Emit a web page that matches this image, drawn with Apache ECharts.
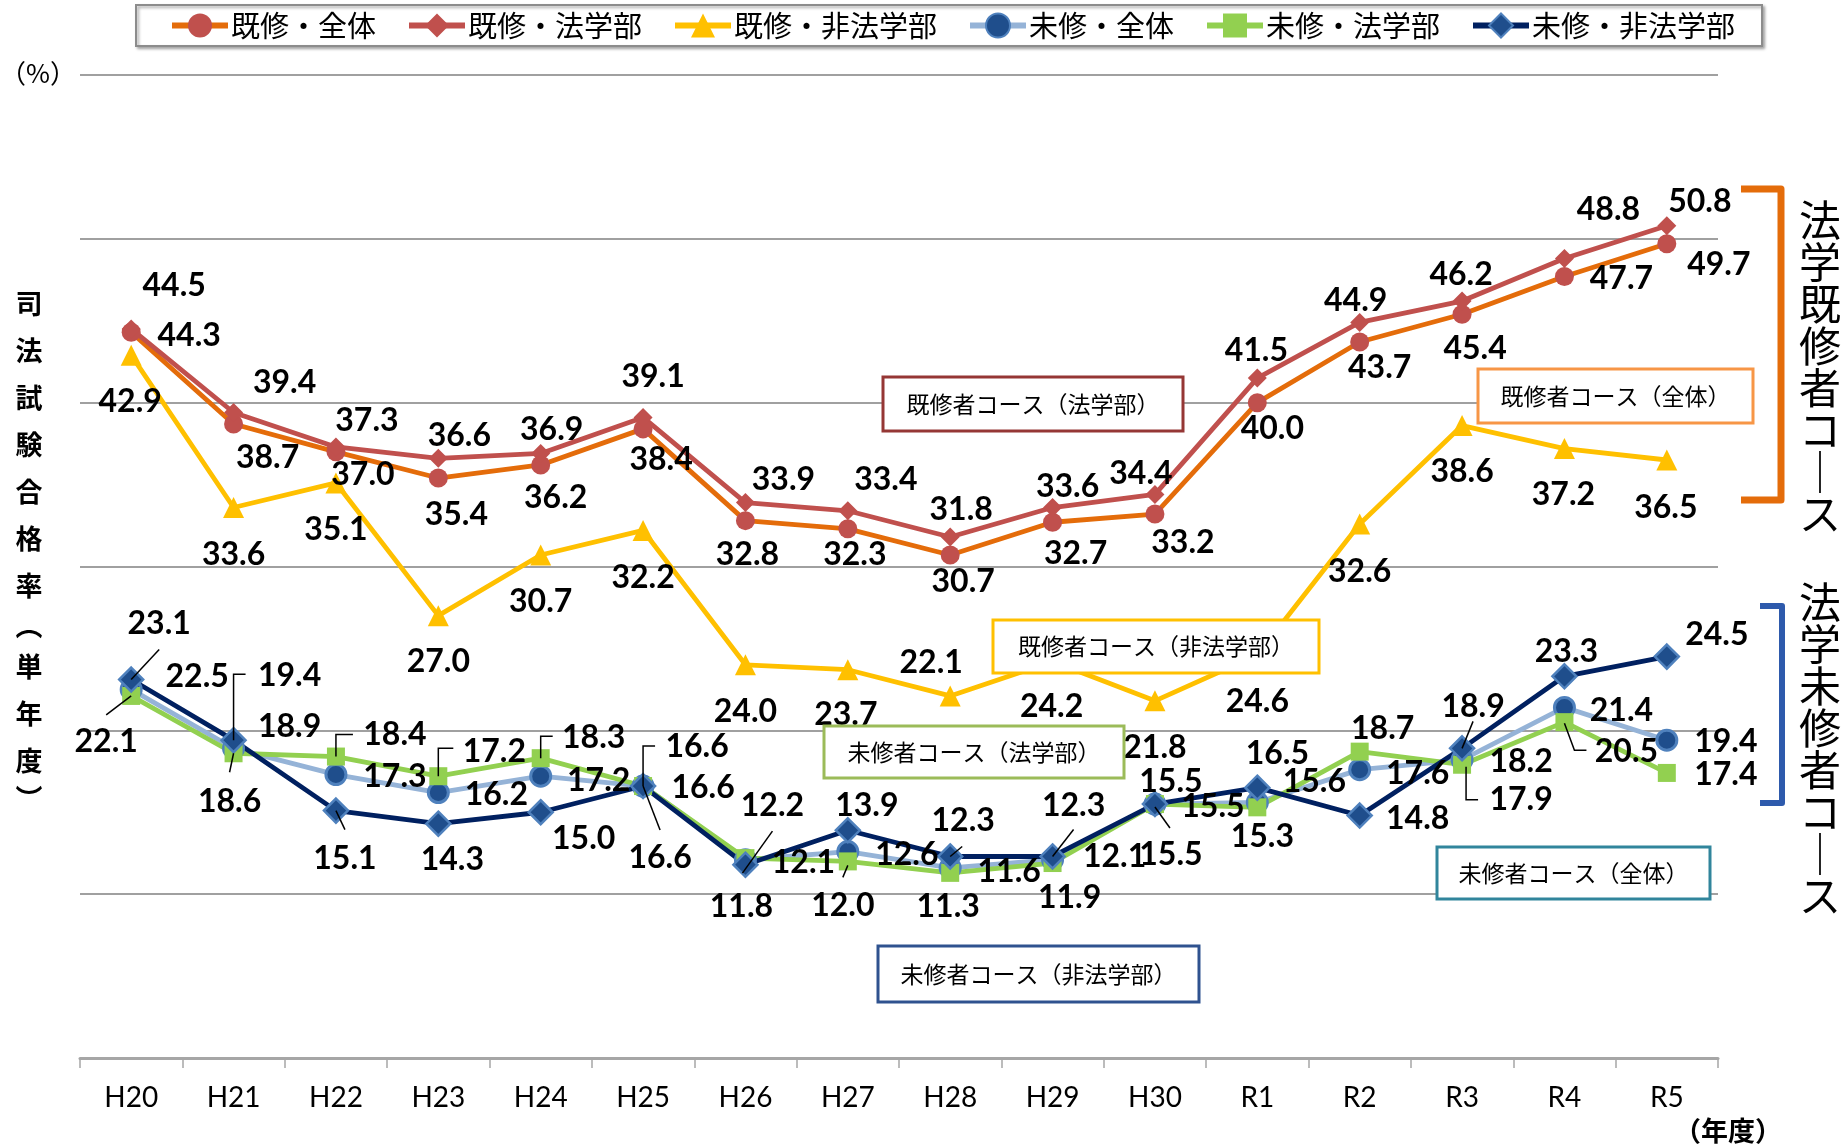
<!DOCTYPE html>
<html>
<head>
<meta charset="utf-8">
<script src="https://cdn.jsdelivr.net/npm/echarts@6/dist/echarts.min.js"></script>
<style>
html,body{margin:0;padding:0;background:#fff;}
#main{width:1843px;height:1148px;}
</style>
</head>
<body>
<div id="main"></div>
<script>
// ---- data ----
const categories = ['H20','H21','H22','H23','H24','H25','H26','H27','H28','H29','H30','R1','R2','R3','R4','R5'];
const seriesNames = ['既修・全体','既修・法学部','既修・非法学部','未修・全体','未修・法学部','未修・非法学部'];
const kishuAll    = [44.3, 38.7, 37.0, 35.4, 36.2, 38.4, 32.8, 32.3, 30.7, 32.7, 33.2, 40.0, 43.7, 45.4, 47.7, 49.7];
const kishuLaw    = [44.5, 39.4, 37.3, 36.6, 36.9, 39.1, 33.9, 33.4, 31.8, 33.6, 34.4, 41.5, 44.9, 46.2, 48.8, 50.8];
const kishuNonLaw = [42.9, 33.6, 35.1, 27.0, 30.7, 32.2, 24.0, 23.7, 22.1, 24.2, 21.8, 24.6, 32.6, 38.6, 37.2, 36.5];
const mishuAll    = [22.5, 18.9, 17.3, 16.2, 17.2, 16.6, 12.1, 12.6, 11.6, 12.1, 15.5, 15.6, 17.6, 18.2, 21.4, 19.4];
const mishuLaw    = [22.1, 18.6, 18.4, 17.2, 18.3, 16.6, 12.2, 12.0, 11.3, 11.9, 15.5, 15.3, 18.7, 17.9, 20.5, 17.4];
const mishuNonLaw = [23.1, 19.4, 15.1, 14.3, 15.0, 16.6, 11.8, 13.9, 12.3, 12.3, 15.5, 16.5, 14.8, 18.9, 23.3, 24.5];

// ---- label layout (offsets of label centres from their point, px) ----
const offKA = [[58,3],[34,34],[27,23],[18,37],[15,33],[18,31],[2,34],[7,26],[13,27],[23,31],[28,29],[15,26],[20,26],[13,34],[57,2],[52,21]];
const offKL = [[43,-43],[51,-30],[31,-26],[21,-23],[11,-24],[10,-41],[38,-23],[38,-31],[11,-27],[15,-21],[-14,-21],[-1,-27],[-4,-22],[-1,-26],[44,-49],[33,-24]];
const offKN = [[-1,47],[0,47],[0,47],[0,46],[0,47],[0,47],[0,47],[-2,45],[-19,-33],[-1,45],[0,47],[0,47],[0,48],[0,46],[-1,46],[-1,48]];
const offMA = [[66,-13],[56,-22],[59,2],[58,2],[58,4],[60,2],[58,3],[59,3],[59,4],[62,-3],[58,3],[57,-21],[58,4],[59,2],[57,3],[59,2]];
const offML = [[-25,46],[-4,48],[59,-22],[56,-25],[53,-20],[54,-39],[27,-52],[-5,44],[-2,34],[17,35],[16,51],[5,29],[23,-23],[59,35],[62,30],[59,2]];
const offMN = [[28,-56],[56,-64],[9,48],[14,36],[43,26],[17,72],[-4,42],[19,-25],[13,-36],[21,-51],[16,-22],[20,-34],[58,3],[11,-42],[2,-25],[50,-22]];

// leader lines: [seriesIndex, categoryIndex, relative points]
const leaders = [
  [5,0,[[0,0],[28,-30]]],
  [4,0,[[0,0],[-25,19]]],
  [5,1,[[0,0],[0,-66],[12,-66]]],
  [4,1,[[0,0],[-4,19]]],
  [4,2,[[0,0],[0,-22],[17,-22]]],
  [5,2,[[0,0],[9,19]]],
  [4,3,[[0,0],[0,-28],[15,-28]]],
  [4,4,[[0,0],[0,-22],[12,-22]]],
  [4,5,[[0,0],[0,-40],[12,-40]]],
  [5,5,[[0,0],[17,44]]],
  [4,6,[[-3,15],[27,-27]]],
  [4,7,[[0,4],[-5,16]]],
  [5,8,[[0,0],[12,-10]]],
  [5,9,[[0,0],[21,-27]]],
  [4,10,[[0,3],[15,24]]],
  [5,13,[[0,0],[11,-27]]],
  [4,13,[[4,2],[4,35],[16,35]]],
  [4,14,[[0,1],[10,28],[22,28]]]
];

const allValues = [kishuAll, kishuLaw, kishuNonLaw, mishuAll, mishuLaw, mishuNonLaw];
const allOffs = [offKA, offKL, offKN, offMA, offML, offMN];

const NUM_FONT = 'Lato, "Liberation Sans", sans-serif';
const JP_FONT = '"Noto Sans CJK JP", sans-serif';

function mkSeries(idx, lineColor, symbol, size, itemStyle) {
  return {
    name: seriesNames[idx],
    type: 'line',
    data: allValues[idx].map((v, i) => ({ value: v, label: { offset: allOffs[idx][i] } })),
    symbol: symbol,
    symbolSize: size,
    showAllSymbol: true,
    lineStyle: { color: lineColor, width: 4.8 },
    itemStyle: itemStyle,
    label: {
      show: true, position: 'inside',
      formatter: p => Number(p.value).toFixed(1),
      fontFamily: NUM_FONT, fontWeight: 'bold', fontSize: 32, color: '#000',
      textBorderWidth: 0
    },
    emphasis: { disabled: true },
    animation: false
  };
}

const series = [
  mkSeries(0, '#E46C0A', 'circle', 19, { color: '#C0504D' }),
  mkSeries(1, '#C0504D', 'diamond', 19, { color: '#C0504D' }),
  mkSeries(2, '#FFC000', 'triangle', 21, { color: '#FFC000' }),
  mkSeries(3, '#95B3D7', 'circle', 20, { color: '#1F4E8C', borderColor: '#4F81BD', borderWidth: 3 }),
  mkSeries(4, '#92D050', 'rect', 18, { color: '#92D050' }),
  mkSeries(5, '#002060', 'diamond', 24, { color: '#1F4E8C', borderColor: '#4F81BD', borderWidth: 2.5 })
];

function box(id, x, y, w, h, color, text) {
  return [
    { type: 'rect', id: id + 'r', z: 100, shape: { x: x, y: y, width: w, height: h },
      style: { fill: '#fff', stroke: color, lineWidth: 3 } },
    { type: 'text', id: id + 't', z: 101, x: x + w / 2, y: y + h / 2,
      style: { text: text, fontFamily: JP_FONT, fontSize: 23, fill: '#000', align: 'center', verticalAlign: 'middle' } }
  ];
}

const staticGraphics = [].concat(
  box('b1', 883, 377, 300, 54, '#953735', '既修者コース（法学部）'),
  box('b2', 1478, 369, 275, 54, '#F79646', '既修者コース（全体）'),
  box('b3', 993, 620, 326, 53, '#FFC000', '既修者コース（非法学部）'),
  box('b4', 824, 726, 300, 52, '#9BBB59', '未修者コース（法学部）'),
  box('b5', 1437, 847, 273, 52, '#31859C', '未修者コース（全体）'),
  box('b6', 878, 946, 321, 56, '#2F528F', '未修者コース（非法学部）'),
  [
    { type: 'text', id: 'pct', x: 38, y: 73, style: { text: '（%）', fontFamily: JP_FONT, fontSize: 26, fill: '#000', align: 'center', verticalAlign: 'middle' } },
    { type: 'text', id: 'yt1', x: 29, y: 280, style: { text: '司\n法\n試\n験\n合\n格\n率', fontFamily: JP_FONT, fontWeight: 'bold', fontSize: 27, lineHeight: 47, fill: '#000', align: 'center', verticalAlign: 'top' } },
    { type: 'text', id: 'yt2', x: 29, y: 626, style: { text: '︵', fontFamily: JP_FONT, fontWeight: 'bold', fontSize: 27, fill: '#000', align: 'center', verticalAlign: 'middle' } },
    { type: 'text', id: 'yt3', x: 29, y: 643, style: { text: '単\n年\n度', fontFamily: JP_FONT, fontWeight: 'bold', fontSize: 27, lineHeight: 47, fill: '#000', align: 'center', verticalAlign: 'top' } },
    { type: 'text', id: 'yt4', x: 29, y: 799, style: { text: '︶', fontFamily: JP_FONT, fontWeight: 'bold', fontSize: 27, fill: '#000', align: 'center', verticalAlign: 'middle' } },
    { type: 'text', id: 'xname', x: 1728, y: 1131, style: { text: '（年度）', fontFamily: JP_FONT, fontWeight: 'bold', fontSize: 27, fill: '#000', align: 'center', verticalAlign: 'middle' } },
    { type: 'polyline', id: 'br1', z: 100, shape: { points: [[1741, 189], [1781, 189], [1781, 500], [1741, 500]] },
      style: { stroke: '#E46C0A', lineWidth: 7, fill: null, lineJoin: 'round' } },
    { type: 'polyline', id: 'br2', z: 100, shape: { points: [[1760, 606], [1782, 606], [1782, 803], [1760, 803]] },
      style: { stroke: '#2E5AAC', lineWidth: 6, fill: null, lineJoin: 'round' } },
    { type: 'text', id: 'rt1', x: 1820, y: 199, style: { text: '法\n学\n既\n修\n者\nコ\n｜\nス', fontFamily: JP_FONT, fontSize: 42, lineHeight: 42, fill: '#000', align: 'center', verticalAlign: 'top' } },
    { type: 'text', id: 'rt2', x: 1820, y: 581, style: { text: '法\n学\n未\n修\n者\nコ\n｜\nス', fontFamily: JP_FONT, fontSize: 42, lineHeight: 42, fill: '#000', align: 'center', verticalAlign: 'top' } }
  ]
);

const chart = echarts.init(document.getElementById('main'), null, { renderer: 'canvas' });
chart.setOption({
  animation: false,
  backgroundColor: '#fff',
  grid: { left: 80, right: 125, top: 75, bottom: 90, containLabel: false },
  legend: {
    left: 136, top: 5,
    padding: [6, 27, 6, 33],
    itemGap: 30, itemWidth: 56, itemHeight: 30,
    borderColor: '#8C8C8C', borderWidth: 2,
    backgroundColor: '#fff',
    shadowColor: 'rgba(0,0,0,0.35)', shadowBlur: 3, shadowOffsetX: 2, shadowOffsetY: 2,
    lineStyle: { width: 6 },
    textStyle: { fontFamily: JP_FONT, fontSize: 29, color: '#000', padding: [0, 0, 0, -2] },
    data: seriesNames
  },
  xAxis: {
    type: 'category', data: categories, boundaryGap: true,
    axisLine: { lineStyle: { color: '#A6A6A6', width: 3 } },
    axisTick: { show: true, interval: 0, alignWithLabel: false, length: 10, lineStyle: { color: '#A6A6A6', width: 1.5 } },
    axisLabel: { interval: 0, fontFamily: NUM_FONT, fontSize: 28, color: '#000', margin: 26 }
  },
  yAxis: {
    type: 'value', min: 0, max: 60, interval: 10,
    axisLabel: { show: false }, axisLine: { show: false }, axisTick: { show: false },
    splitLine: { lineStyle: { color: '#A0A0A0', width: 2 } }
  },
  series: series,
  graphic: { elements: staticGraphics }
});

const leaderEls = leaders.map((ld, k) => {
  const s = ld[0], i = ld[1];
  const p = chart.convertToPixel({ seriesIndex: s }, [i, allValues[s][i]]);
  return {
    type: 'polyline', id: 'ld' + k, z: 90,
    shape: { points: ld[2].map(q => [p[0] + q[0], p[1] + q[1]]) },
    style: { stroke: '#000', lineWidth: 1.5, fill: null }
  };
});
chart.setOption({ graphic: { elements: leaderEls } });
</script>
</body>
</html>
